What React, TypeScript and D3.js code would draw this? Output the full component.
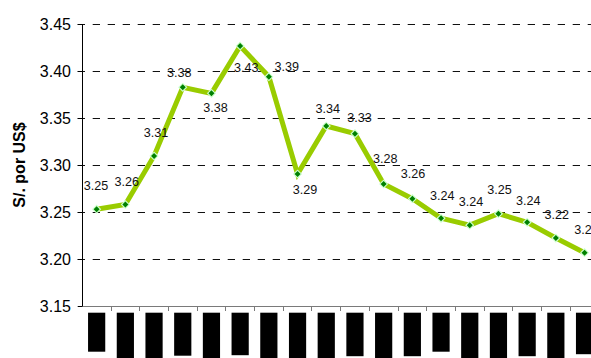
import React from "react";
import * as d3 from "d3";

// Exchange rate series (soles per US dollar), one value per period
const periods = ["01", "02", "03", "04", "05", "06", "07", "08", "09", "10", "11", "12", "13", "14", "15", "16", "17", "18"];
const rates = [3.253, 3.258, 3.3096, 3.3826, 3.3762, 3.4266, 3.394, 3.2904, 3.3415, 3.3333, 3.2798, 3.2642, 3.2433, 3.236, 3.2482, 3.239, 3.2223, 3.2067];
const yTicks = [3.15, 3.2, 3.25, 3.3, 3.35, 3.4, 3.45];
const yTitle = "S/. por US$";

// Data label placement relative to each marker (px)
const labelOffsets: [number, number][] = [
  [-0.6, -24], [1.5, -23], [2, -23.3], [-3.5, -14.6], [4, 14.4], [6, 22],
  [18, -10], [7.5, 15.3], [1.5, -17], [4.5, -16.4], [1.5, -25], [0.7, -24.7],
  [1.3, -23], [1.3, -23.4], [1, -23.7], [1, -22.3], [1, -23.7], [2, -23],
];
// Category label block lengths (px)
const labelBlockLen = [39, 46, 46, 43, 46, 42.5, 46, 46, 46, 43.5, 46, 43.5, 39, 46, 46, 43.5, 46, 41.5];

const W = 591;
const H = 358;
const left = 82.3;
const top = 24;
const bottom = 306;
const step = 28.7;

export default function App() {
  const x = d3
    .scaleBand<string>()
    .domain(periods)
    .range([left, left + step * periods.length])
    .padding(0);
  const y = d3.scaleLinear().domain([3.15, 3.45]).range([bottom, top]);
  const cx = (i: number) => (x(periods[i]) as number) + x.bandwidth() / 2;
  // snap 1px strokes onto the pixel grid
  const crisp = (v: number) => Math.round(v) + 0.5;

  const line = d3
    .line<number>()
    .x((_, i) => cx(i))
    .y((d) => y(d));

  const diamond = (r: number) => `M0,${-r}L${r},0L0,${r}L${-r},0Z`;
  const font = "'Liberation Sans', Arial, sans-serif";
  const axisX = crisp(left - 0.5);

  return (
    <svg
      width={W}
      height={H}
      style={{ position: "absolute", left: 0, top: 0, background: "#fff" }}
      fontFamily={font}
    >
      {/* gridlines */}
      {yTicks.slice(1).map((t) => (
        <line
          key={`g${t}`}
          x1={77.7}
          x2={W}
          y1={crisp(y(t))}
          y2={crisp(y(t))}
          stroke="#111"
          strokeWidth={1}
          strokeDasharray="7.3,7.7"
        />
      ))}
      {/* y axis */}
      <line x1={axisX} x2={axisX} y1={top} y2={bottom + 1} stroke="#000" strokeWidth={1} />
      {yTicks.map((t) => (
        <g key={`t${t}`}>
          <line x1={77.7} x2={axisX} y1={crisp(y(t))} y2={crisp(y(t))} stroke="#000" />
          <text x={71} y={y(t) + 5.8} textAnchor="end" fontSize={16} fill="#000">
            {t.toFixed(2)}
          </text>
        </g>
      ))}
      <text
        transform={`translate(19,${(top + bottom) / 2}) rotate(-90)`}
        textAnchor="middle"
        dominantBaseline="central"
        fontSize={16}
        fontWeight="bold"
        fill="#000"
      >
        {yTitle}
      </text>
      {/* x axis */}
      <line x1={axisX} x2={W} y1={crisp(bottom)} y2={crisp(bottom)} stroke="#7a7a7a" strokeWidth={1} />
      {periods.map((p) => {
        const tx = crisp((x(p) as number) + x.bandwidth() - 0.5);
        return (
          <line key={`xt${p}`} x1={tx} x2={tx} y1={bottom} y2={bottom + 5} stroke="#7a7a7a" />
        );
      })}
      {periods.map((p, i) => (
        <rect
          key={`xl${p}`}
          x={cx(i) - 8.6}
          y={312.7}
          width={17.2}
          height={labelBlockLen[i]}
          fill="#000"
        />
      ))}
      {/* series */}
      <path d={line(rates) as string} fill="none" stroke="#99cc00" strokeWidth={5} strokeLinejoin="miter" />
      {rates.map((v, i) => (
        <g key={`m${i}`} transform={`translate(${cx(i)},${y(v)})`}>
          <path d={diamond(4.6)} fill="#ccffcc" />
          <path d={diamond(3)} fill="#008000" />
        </g>
      ))}
      {rates.map((v, i) => (
        <text
          key={`l${i}`}
          x={cx(i) + labelOffsets[i][0]}
          y={y(v) + labelOffsets[i][1] + 4.5}
          textAnchor="middle"
          fontSize={12.6}
          fill="#111"
        >
          {v.toFixed(2)}
        </text>
      ))}
    </svg>
  );
}
